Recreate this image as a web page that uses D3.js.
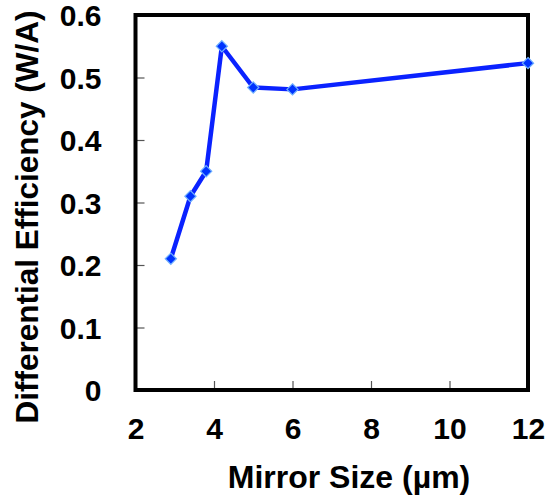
<!DOCTYPE html>
<html>
<head>
<meta charset="utf-8">
<script src="https://cdn.jsdelivr.net/npm/d3@7"></script>
<style>
  body { margin: 0; background: #fff; }
  text { font-family: "Liberation Sans", Arial, sans-serif; font-weight: bold; }
</style>
</head>
<body>
<div id="chart"></div>
<script>
// data
var mirrorSize = [2.9, 3.4, 3.8, 4.2, 5, 6, 12];
var efficiency = [0.21, 0.31, 0.35, 0.55, 0.484, 0.481, 0.523];
var xTicks = [2, 4, 6, 8, 10, 12];
var yTicks = [0, 0.1, 0.2, 0.3, 0.4, 0.5, 0.6];

var margin = {top: 15, right: 22, bottom: 105, left: 135.5},
    width = 550 - margin.left - margin.right,
    height = 495 - margin.top - margin.bottom;

var svg = d3.select("#chart")
  .append("svg")
  .attr("width", 550)
  .attr("height", 495)
  .append("g")
  .attr("transform", "translate(" + margin.left + "," + margin.top + ")");

var x = d3.scaleLinear().domain([2, 12]).range([0, width]);
var y = d3.scaleLinear().domain([0, 0.6]).range([height, 0]);

// inner ticks
var xAxis = svg.append("g")
  .attr("transform", "translate(0," + height + ")")
  .call(d3.axisBottom(x).tickValues(xTicks).tickSizeInner(-9).tickSizeOuter(0).tickPadding(28));
var yAxis = svg.append("g")
  .call(d3.axisLeft(y).tickValues(yTicks).tickSizeInner(-9).tickSizeOuter(0).tickPadding(34)
    .tickFormat(function(d){ return d === 0 ? "0" : d3.format(".1f")(d); }));

[xAxis, yAxis].forEach(function(a){
  a.select(".domain").remove();
  a.selectAll(".tick line").attr("stroke", "#555").attr("stroke-width", 1.2);
  a.selectAll(".tick text").attr("font-size", 30).attr("fill", "#000")
    .attr("font-family", "Liberation Sans, Arial, sans-serif").attr("font-weight", "bold");
});
yAxis.selectAll(".tick text").attr("dy", "0.36em");

// frame
svg.append("rect")
  .attr("width", width)
  .attr("height", height)
  .attr("fill", "none")
  .attr("stroke", "#000")
  .attr("stroke-width", 4);

var line = d3.line()
  .x(function(d, i){ return x(mirrorSize[i]); })
  .y(function(d){ return y(d); });

svg.append("path")
  .datum(efficiency)
  .attr("d", line)
  .attr("fill", "none")
  .attr("stroke", "#0a22ff")
  .attr("stroke-width", 4.5)
  .attr("stroke-linejoin", "round");

svg.selectAll(".pt")
  .data(efficiency)
  .enter()
  .append("path")
  .attr("class", "pt")
  .attr("d", d3.symbol().type(d3.symbolDiamond2).size(80))
  .attr("transform", function(d, i){ return "translate(" + x(mirrorSize[i]) + "," + y(d) + ")"; })
  .attr("fill", "#0033ff")
  .attr("stroke", "#6fb0ff")
  .attr("stroke-width", 1.2);

// axis titles
svg.append("text")
  .attr("x", 349 - margin.left)
  .attr("y", 488 - margin.top)
  .attr("text-anchor", "middle")
  .attr("font-size", 32)
  .text("Mirror Size (µm)");

svg.append("text")
  .attr("transform", "translate(" + (38 - margin.left) + "," + (217 - margin.top) + ") rotate(-90)")
  .attr("text-anchor", "middle")
  .attr("font-size", 31.5)
  .text("Differential Efficiency (W/A)");
</script>
</body>
</html>
